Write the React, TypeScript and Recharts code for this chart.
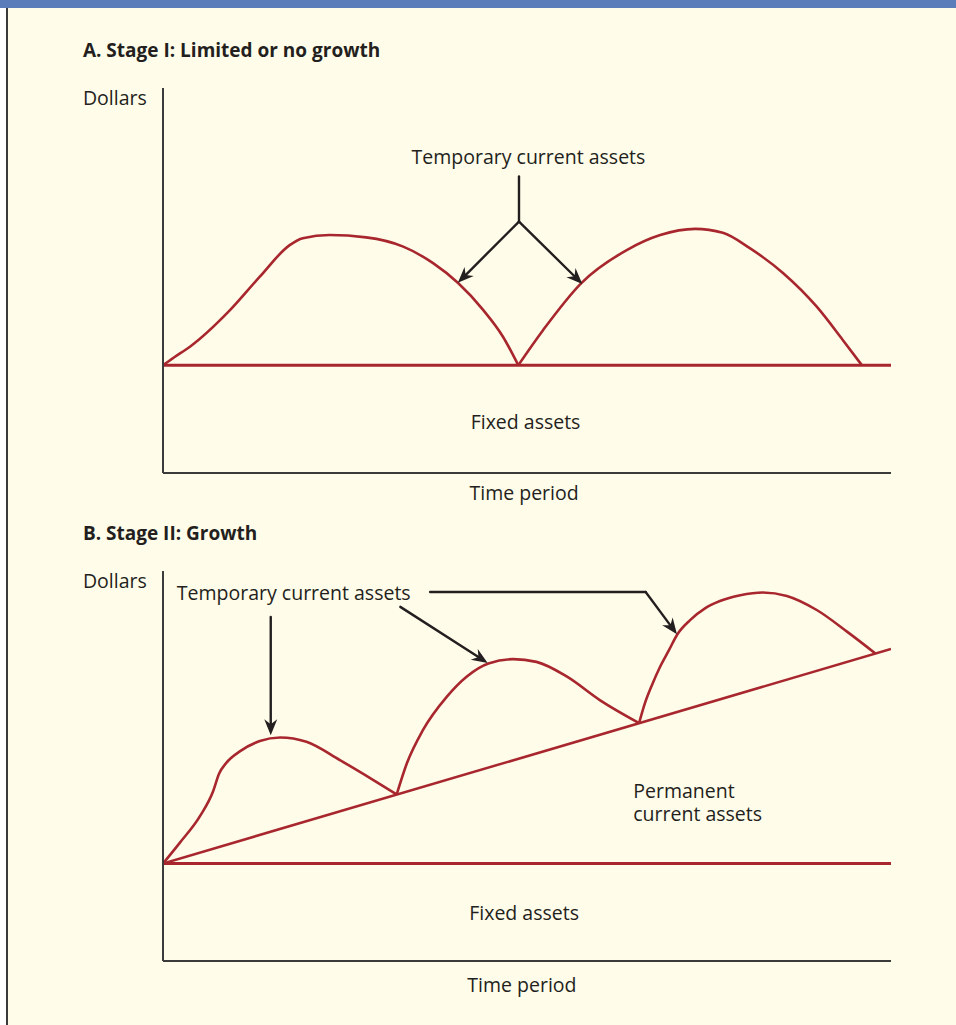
import { LineChart, Line, XAxis, YAxis, ReferenceLine, ReferenceDot } from 'recharts';

type Pt = { x: number; y: number };
type Seg = { from: Pt; to: Pt; head: boolean };
type Note = { x: number; y: number; text: string; anchor: 'start' | 'middle'; bold?: boolean };

const RED = '#a8272e';
const INK = '#231f20';
const FONT = '"Open Sans", "DejaVu Sans", sans-serif';

// Panel A: stage I (time 0-100, dollars 0-100)
const fixedA: Pt[] = [{ x: 0, y: 28 }, { x: 100, y: 28 }];
const tempA1: Pt[] = [
  { x: 0, y: 28 }, { x: 1.5, y: 30 }, { x: 3.7, y: 32.8 }, { x: 9.2, y: 42.3 }, { x: 13.3, y: 51 },
  { x: 17.4, y: 59.2 }, { x: 19.2, y: 61 }, { x: 22.9, y: 61.8 }, { x: 27.9, y: 61.2 },
  { x: 33, y: 58.8 }, { x: 37.1, y: 54.5 }, { x: 40.5, y: 49.4 }, { x: 44, y: 42.3 },
  { x: 46.7, y: 35.4 }, { x: 48.8, y: 28 },
];
const tempA2: Pt[] = [
  { x: 48.8, y: 28 }, { x: 52.2, y: 37.1 }, { x: 57.5, y: 49.4 }, { x: 63.7, y: 57.9 },
  { x: 68.3, y: 61.8 }, { x: 73.1, y: 63.4 }, { x: 76.9, y: 62.4 }, { x: 80.6, y: 58.4 },
  { x: 85.2, y: 51.9 }, { x: 89.8, y: 43.2 }, { x: 93.4, y: 34.5 }, { x: 96, y: 28 },
];
const arrowsA: Seg[] = [
  { from: { x: 48.9, y: 77 }, to: { x: 48.9, y: 65.3 }, head: false },
  { from: { x: 48.9, y: 65.3 }, to: { x: 40.5, y: 49.4 }, head: true },
  { from: { x: 48.9, y: 65.3 }, to: { x: 57.6, y: 49.1 }, head: true },
];
const notesA: Note[] = [
  { x: -11, y: 108.1, text: 'A. Stage I: Limited or no growth', anchor: 'start', bold: true },
  { x: -11, y: 95.6, text: 'Dollars', anchor: 'start' },
  { x: 50.2, y: 80.2, text: 'Temporary current assets', anchor: 'middle' },
  { x: 49.8, y: 11.4, text: 'Fixed assets', anchor: 'middle' },
  { x: 49.6, y: -7, text: 'Time period', anchor: 'middle' },
];

// Panel B: stage II
const fixedB: Pt[] = [{ x: 0, y: 25 }, { x: 100, y: 25 }];
const permanentB: Pt[] = [{ x: 0, y: 25 }, { x: 100, y: 80 }];
const tempB1: Pt[] = [
  { x: 0, y: 25 }, { x: 2.3, y: 30.3 }, { x: 5.1, y: 37.2 }, { x: 6.9, y: 43.6 },
  { x: 7.7, y: 48 }, { x: 8.7, y: 50.8 }, { x: 10.6, y: 53.8 }, { x: 13.3, y: 56.4 },
  { x: 16.1, y: 57.3 }, { x: 19.7, y: 56.2 }, { x: 24.3, y: 51.5 }, { x: 28.9, y: 46.4 },
  { x: 32.1, y: 42.7 },
];
const tempB2: Pt[] = [
  { x: 32.1, y: 42.7 }, { x: 33.5, y: 50.7 }, { x: 35.7, y: 59.2 }, { x: 39, y: 67.8 },
  { x: 41.7, y: 72.9 }, { x: 44.7, y: 76.3 }, { x: 48.1, y: 77.4 }, { x: 51.3, y: 76.7 },
  { x: 55.5, y: 72.9 }, { x: 60, y: 66.9 }, { x: 65.4, y: 61 },
];
const tempB3: Pt[] = [
  { x: 65.4, y: 61 }, { x: 66.2, y: 66.1 }, { x: 67.2, y: 70.9 }, { x: 68.3, y: 75.5 },
  { x: 69.5, y: 79.7 }, { x: 70.6, y: 83.6 }, { x: 72.4, y: 87.4 }, { x: 74.5, y: 90.5 },
  { x: 76.5, y: 92.3 }, { x: 79.3, y: 93.8 }, { x: 82.4, y: 94.5 }, { x: 85.7, y: 93.6 },
  { x: 89.8, y: 90 }, { x: 94, y: 84.4 }, { x: 97.9, y: 78.8 },
];
const arrowsB: Seg[] = [
  { from: { x: 14.8, y: 88.2 }, to: { x: 14.8, y: 57.9 }, head: true },
  { from: { x: 32.6, y: 90.8 }, to: { x: 44.6, y: 76.4 }, head: true },
  { from: { x: 36.7, y: 94.6 }, to: { x: 66.3, y: 94.6 }, head: false },
  { from: { x: 66.3, y: 94.6 }, to: { x: 70.6, y: 83.8 }, head: true },
];
const notesB: Note[] = [
  { x: -11, y: 107.9, text: 'B. Stage II: Growth', anchor: 'start', bold: true },
  { x: -11, y: 95.6, text: 'Dollars', anchor: 'start' },
  { x: 1.9, y: 92.6, text: 'Temporary current assets', anchor: 'start' },
  { x: 64.6, y: 41.8, text: 'Permanent', anchor: 'start' },
  { x: 64.6, y: 35.9, text: 'current assets', anchor: 'start' },
  { x: 49.6, y: 10.5, text: 'Fixed assets', anchor: 'middle' },
  { x: 49.3, y: -7.9, text: 'Time period', anchor: 'middle' },
];

const arrowShape = (head: boolean) => (p: any) => {
  const { x1, y1, x2, y2 } = p;
  if (!head) {
    return <line x1={x1} y1={y1} x2={x2} y2={y2} stroke={INK} strokeWidth={2.4} strokeLinecap="round" />;
  }
  const dx = x2 - x1;
  const dy = y2 - y1;
  const len = Math.hypot(dx, dy) || 1;
  const ux = dx / len;
  const uy = dy / len;
  const bx = x2 - ux * 16;
  const by = y2 - uy * 16;
  const nx = x2 - ux * 11;
  const ny = y2 - uy * 11;
  const pts = [
    [x2, y2],
    [bx - uy * 6.5, by + ux * 6.5],
    [nx, ny],
    [bx + uy * 6.5, by - ux * 6.5],
  ].map((q) => q.join(',')).join(' ');
  return (
    <g>
      <line x1={x1} y1={y1} x2={nx} y2={ny} stroke={INK} strokeWidth={2.4} strokeLinecap="round" />
      <polygon points={pts} fill={INK} />
    </g>
  );
};

const noteContent = (n: Note) => (props: any) => {
  const vb = props.viewBox || {};
  return (
    <text
      x={vb.x}
      y={vb.y}
      textAnchor={n.anchor}
      fill={INK}
      fontFamily={FONT}
      fontSize={n.bold ? 19 : 19.5}
      fontWeight={n.bold ? 700 : 400}
    >
      {n.text}
    </text>
  );
};

function Panel({
  height,
  margin,
  fixed,
  permanent,
  temps,
  arrows,
  notes,
}: {
  height: number;
  margin: { top: number; right: number; bottom: number; left: number };
  fixed: Pt[];
  permanent?: Pt[];
  temps: Pt[][];
  arrows: Seg[];
  notes: Note[];
}) {
  return (
    <LineChart width={956} height={height} margin={margin}>
      <XAxis
        type="number"
        dataKey="x"
        domain={[0, 100]}
        allowDataOverflow
        height={1}
        tick={false}
        tickLine={false}
        axisLine={{ stroke: '#3b3b3b', strokeWidth: 2 }}
      />
      <YAxis
        type="number"
        domain={[0, 100]}
        allowDataOverflow
        width={1}
        tick={false}
        tickLine={false}
        axisLine={{ stroke: '#3b3b3b', strokeWidth: 2 }}
      />
      <Line data={fixed} dataKey="y" type="linear" stroke={RED} strokeWidth={3} dot={false} activeDot={false} isAnimationActive={false} />
      {permanent && (
        <Line data={permanent} dataKey="y" type="linear" stroke={RED} strokeWidth={2.6} dot={false} activeDot={false} isAnimationActive={false} />
      )}
      {temps.map((t, i) => (
        <Line key={i} data={t} dataKey="y" type="monotone" stroke={RED} strokeWidth={2.6} dot={false} activeDot={false} isAnimationActive={false} />
      ))}
      {arrows.map((a, i) => (
        <ReferenceLine
          key={`a${i}`}
          segment={[a.from, a.to]}
          ifOverflow="visible"
          stroke={INK}
          shape={arrowShape(a.head)}
        />
      ))}
      {notes.map((n, i) => (
        <ReferenceDot
          key={`n${i}`}
          x={n.x}
          y={n.y}
          r={0}
          fill="none"
          stroke="none"
          ifOverflow="visible"
          label={{ content: noteContent(n) }}
        />
      ))}
    </LineChart>
  );
}

export default function App() {
  return (
    <div style={{ position: 'absolute', left: 0, top: 0, width: 956, height: 1025, background: '#ffffff', overflow: 'hidden' }}>
      <div style={{ position: 'absolute', left: 0, top: 0, width: 956, height: 8, background: '#5b7db9' }} />
      <div style={{ position: 'absolute', left: 8, top: 8, width: 948, height: 1017, background: '#fffce9' }} />
      <div style={{ position: 'absolute', left: 6, top: 8, width: 2, height: 1017, background: '#3a3a3a' }} />
      <div style={{ position: 'absolute', left: 0, top: 0 }}>
        <Panel
          height={520}
          margin={{ top: 88, right: 65, bottom: 46, left: 162 }}
          fixed={fixedA}
          temps={[tempA1, tempA2]}
          arrows={arrowsA}
          notes={notesA}
        />
      </div>
      <div style={{ position: 'absolute', left: 0, top: 520 }}>
        <Panel
          height={505}
          margin={{ top: 51, right: 65, bottom: 63, left: 162 }}
          fixed={fixedB}
          permanent={permanentB}
          temps={[tempB1, tempB2, tempB3]}
          arrows={arrowsB}
          notes={notesB}
        />
      </div>
    </div>
  );
}
